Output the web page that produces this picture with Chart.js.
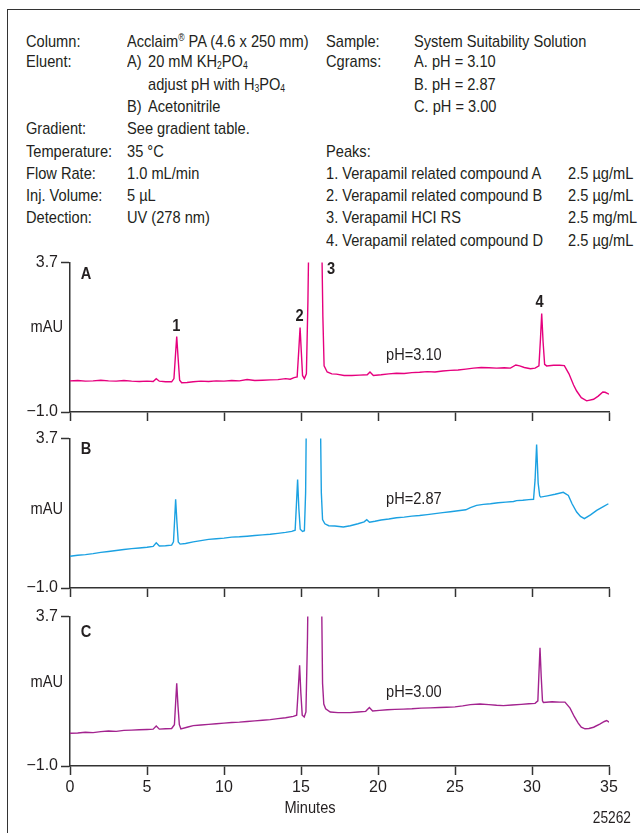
<!DOCTYPE html>
<html>
<head>
<meta charset="utf-8">
<script src="https://cdn.jsdelivr.net/npm/chart.js@4.4.1/dist/chart.umd.min.js"></script>
<style>
  body {
    margin: 0;
    width: 640px;
    height: 833px;
    overflow: hidden;
    background: #fff;
    position: relative;
    font-family: "Liberation Sans", Arial, sans-serif;
    color: #231f20;
  }
  .frame {
    position: absolute;
    left: 7px;
    top: 9px;
    width: 700px;
    height: 900px;
    border: 1.5px solid #333;
  }
  .t {
    position: absolute;
    font-size: 17px;
    line-height: 20px;
    white-space: nowrap;
    transform: scaleX(0.86);
    transform-origin: left center;
  }
  .t sub { font-size: 10px; vertical-align: -2px; line-height: 0; }
  .t sup { font-size: 10px; vertical-align: 6px; line-height: 0; }
  canvas { position: absolute; left: 0; }
</style>
</head>
<body>
<div class="frame"></div>

<div class="t" style="left:26px;top:32px">Column:</div>
<div class="t" style="left:127px;top:32px">Acclaim<sup>®</sup> PA (4.6 x 250 mm)</div>
<div class="t" style="left:26px;top:52px">Eluent:</div>
<div class="t" style="left:127px;top:52px">A)</div>
<div class="t" style="left:148px;top:52px">20 mM KH<sub>2</sub>PO<sub>4</sub></div>
<div class="t" style="left:148px;top:75px">adjust pH with H<sub>3</sub>PO<sub>4</sub></div>
<div class="t" style="left:127px;top:97px">B)</div>
<div class="t" style="left:148px;top:97px">Acetonitrile</div>
<div class="t" style="left:26px;top:119px">Gradient:</div>
<div class="t" style="left:127px;top:119px">See gradient table.</div>
<div class="t" style="left:26px;top:142px">Temperature:</div>
<div class="t" style="left:127px;top:142px">35 °C</div>
<div class="t" style="left:26px;top:164px">Flow Rate:</div>
<div class="t" style="left:127px;top:164px">1.0 mL/min</div>
<div class="t" style="left:26px;top:186px">Inj. Volume:</div>
<div class="t" style="left:127px;top:186px">5 µL</div>
<div class="t" style="left:26px;top:208px">Detection:</div>
<div class="t" style="left:127px;top:208px">UV (278 nm)</div>

<div class="t" style="left:326px;top:32px">Sample:</div>
<div class="t" style="left:414px;top:32px">System Suitability Solution</div>
<div class="t" style="left:326px;top:52px">Cgrams:</div>
<div class="t" style="left:414px;top:52px">A. pH = 3.10</div>
<div class="t" style="left:414px;top:75px">B. pH = 2.87</div>
<div class="t" style="left:414px;top:97px">C. pH = 3.00</div>
<div class="t" style="left:326px;top:142px">Peaks:</div>
<div class="t" style="left:326px;top:164px">1. Verapamil related compound A</div>
<div class="t" style="left:568px;top:164px">2.5 µg/mL</div>
<div class="t" style="left:326px;top:186px">2. Verapamil related compound B</div>
<div class="t" style="left:568px;top:186px">2.5 µg/mL</div>
<div class="t" style="left:326px;top:208px">3. Verapamil HCI RS</div>
<div class="t" style="left:568px;top:208px">2.5 mg/mL</div>
<div class="t" style="left:326px;top:231px">4. Verapamil related compound D</div>
<div class="t" style="left:568px;top:231px">2.5 µg/mL</div>

<canvas id="chartA" width="640" height="176" style="top:250px"></canvas>
<canvas id="chartB" width="640" height="176" style="top:426px"></canvas>
<canvas id="chartC" width="640" height="196" style="top:604px"></canvas>

<div class="t" style="left:260px;width:100px;text-align:center;top:798px;transform-origin:center">Minutes</div>
<div class="t" style="left:531px;width:100px;text-align:right;top:808px;font-size:16px;transform-origin:right center">25262</div>

<script>
// axis ticks
const yTickValues = [-1.0, 3.7];
const yTickLabels = ["\u22121.0", "3.7"];
const xMin = 0;
const xMax = 35;
const xStep = 5;

// chromatogram A, pH = 3.10 (minutes / mAU)
const minutesA = [0, 0.5, 1, 1.5, 2, 2.5, 3, 3.5, 4, 4.5, 5, 5.4, 5.6, 5.8, 6.2, 6.6,
  6.75, 6.85, 6.93, 7.02, 7.12, 7.25, 7.6, 8, 8.5, 9, 9.5, 10, 10.5, 11, 11.5, 12, 12.5,
  13, 13.5, 14, 14.3, 14.55, 14.75, 14.85, 14.94, 15.02, 15.1, 15.22, 15.35, 15.45, 15.55,
  16.3, 16.42, 16.5, 16.7, 17, 17.3, 17.8, 18.3, 18.8, 19.3, 19.48, 19.7, 20.2, 20.7,
  21.2, 21.7, 22.2, 22.7, 23.2, 23.7, 24.2, 24.7, 25.2, 25.7, 26.2, 26.7, 27.2, 27.7,
  28.2, 28.6, 28.95, 29.2, 29.5, 29.9, 30.2, 30.45, 30.55, 30.63, 30.72, 30.82, 30.95,
  31.4, 31.8, 32.1, 32.4, 32.7, 32.9, 33.2, 33.55, 34, 34.3, 34.6, 34.75, 35];
const mauA = [-0.02, -0.01, -0.03, -0.02, 0.0, -0.02, -0.03, -0.01, -0.03, -0.04, -0.03, -0.04, 0.05, -0.03, -0.05, -0.05,
  0.05, 0.8, 1.37, 0.7, 0.0, -0.08, -0.07, -0.05, -0.03, -0.04, -0.02, -0.03, -0.01, -0.02, 0.02, -0.01, 0.0,
  0.01, 0.02, 0.05, 0.03, 0.08, 0.1, 0.9, 1.66, 0.9, 0.15, 0.05, 0.2, 2.5, 6.0,
  6.0, 2.0, 0.45, 0.26, 0.2, 0.19, 0.15, 0.15, 0.16, 0.17, 0.26, 0.15, 0.17, 0.2,
  0.22, 0.21, 0.24, 0.25, 0.27, 0.26, 0.29, 0.31, 0.32, 0.35, 0.38, 0.4, 0.39, 0.38,
  0.39, 0.38, 0.48, 0.45, 0.4, 0.36, 0.38, 0.45, 1.3, 2.1, 1.2, 0.5, 0.45,
  0.47, 0.47, 0.46, 0.2, -0.15, -0.34, -0.55, -0.65, -0.6, -0.5, -0.37, -0.38, -0.44];

// chromatogram B, pH = 2.87
const minutesB = [0, 0.5, 1, 1.5, 2, 2.5, 3, 3.5, 4, 4.5, 5, 5.4, 5.6, 5.8, 6.2, 6.6,
  6.72, 6.8, 6.86, 6.94, 7.03, 7.15, 7.5, 8, 8.5, 9, 9.5, 10, 10.5, 11, 11.5, 12, 12.5,
  13, 13.5, 14, 14.4, 14.62, 14.7, 14.78, 14.86, 14.95, 15.1, 15.22, 15.3, 15.38,
  16.22, 16.32, 16.4, 16.55, 16.8, 17.2, 17.75, 18.2, 18.7, 19.1, 19.27, 19.45, 19.8,
  20.2, 20.7, 21.2, 21.7, 22.2, 22.7, 23.2, 23.7, 24.2, 24.7, 25.2, 25.7, 26, 26.4,
  26.84, 27.3, 27.8, 28.3, 28.8, 29, 29.4, 29.8, 30.1, 30.2, 30.3, 30.4, 30.5, 30.56,
  31, 31.5, 32.03, 32.36, 32.6, 32.9, 33.15, 33.4, 33.8, 34.2, 34.6, 34.96];
const mauB = [0.0, 0.03, 0.05, 0.08, 0.12, 0.15, 0.18, 0.21, 0.24, 0.26, 0.28, 0.31, 0.42, 0.32, 0.33, 0.35,
  0.45, 1.2, 1.79, 1.1, 0.45, 0.38, 0.4, 0.45, 0.49, 0.53, 0.55, 0.57, 0.6, 0.61, 0.63, 0.65, 0.67,
  0.69, 0.72, 0.75, 0.78, 0.82, 1.6, 2.41, 1.5, 0.85, 0.78, 0.8, 2.0, 6.0,
  6.0, 2.0, 1.15, 1.02, 0.96, 0.95, 0.92, 0.96, 1.02, 1.08, 1.15, 1.07, 1.1,
  1.14, 1.17, 1.21, 1.23, 1.26, 1.28, 1.31, 1.34, 1.37, 1.4, 1.43, 1.46, 1.53, 1.6,
  1.63, 1.65, 1.68, 1.7, 1.72, 1.75, 1.76, 1.78, 1.79, 2.4, 3.51, 2.3, 1.9, 1.86,
  1.9, 1.95, 2.01, 1.91, 1.65, 1.39, 1.25, 1.18, 1.3, 1.44, 1.55, 1.65];

// chromatogram C, pH = 3.00
const minutesC = [0, 0.5, 1, 1.5, 2, 2.5, 3, 3.5, 4, 4.5, 5, 5.4, 5.6, 5.8, 6.2, 6.6,
  6.78, 6.86, 6.93, 7.01, 7.1, 7.2, 7.6, 8, 8.5, 9, 9.5, 10, 10.5, 11, 11.5, 12, 12.5,
  13, 13.5, 14, 14.5, 14.72, 14.82, 14.91, 14.99, 15.08, 15.21, 15.32, 15.42, 15.5,
  16.3, 16.4, 16.48, 16.6, 16.9, 17.4, 18.18, 18.7, 19.2, 19.44, 19.65, 20.1, 20.6,
  21.1, 21.65, 22.2, 22.8, 23.4, 24, 24.46, 25, 25.5, 26, 26.62, 27.2, 27.7, 28.14,
  28.7, 29.3, 29.8, 30.2, 30.38, 30.45, 30.52, 30.6, 30.68, 30.74, 31.3, 31.8, 32.14,
  32.47, 32.75, 33, 33.2, 33.44, 33.7, 34, 34.4, 34.7, 34.85, 35];
const mauC = [0.03, 0.04, 0.06, 0.05, 0.08, 0.1, 0.09, 0.12, 0.13, 0.14, 0.15, 0.16, 0.26, 0.16, 0.17, 0.18,
  0.3, 1.0, 1.6, 0.9, 0.3, 0.17, 0.22, 0.27, 0.29, 0.31, 0.33, 0.35, 0.37, 0.38, 0.4, 0.42, 0.44,
  0.46, 0.49, 0.52, 0.56, 0.6, 1.4, 2.17, 1.3, 0.6, 0.54, 0.7, 3.0, 6.0,
  6.0, 1.6, 0.95, 0.8, 0.7, 0.68, 0.68, 0.7, 0.72, 0.84, 0.73, 0.75, 0.77,
  0.78, 0.79, 0.8, 0.82, 0.83, 0.84, 0.85, 0.86, 0.89, 0.93, 0.95, 0.93, 0.91, 0.9,
  0.92, 0.94, 0.96, 0.97, 1.05, 1.9, 2.72, 1.8, 1.05, 1.0, 1.02, 1.01, 1.01,
  0.82, 0.55, 0.35, 0.22, 0.17, 0.18, 0.22, 0.32, 0.4, 0.43, 0.38];

const FONT = '"Liberation Sans", Arial, sans-serif';
const INK = "#231f20";
const SQUEEZE = 0.86; // the original uses a condensed face

Chart.defaults.font.family = FONT;
Chart.defaults.font.size = 16;
Chart.defaults.color = INK;

// letters, peak numbers and pH notes, placed in data units
const panelText = {
  id: "panelText",
  afterDatasetsDraw(chart, args, opts) {
    const { ctx, chartArea } = chart;
    const x = chart.scales.x;
    const y = chart.scales.y;
    const put = (text, px, py, align, bold) => {
      ctx.save();
      ctx.translate(px, py);
      ctx.scale(SQUEEZE, 1);
      ctx.font = (bold ? "bold " : "") + "17px " + FONT;
      ctx.textAlign = align;
      ctx.textBaseline = "middle";
      ctx.fillStyle = INK;
      ctx.fillText(text, 0, 0);
      ctx.restore();
    };
    opts.items.forEach((it) => {
      put(it.text, x.getPixelForValue(it.t), y.getPixelForValue(it.v), it.align || "center", it.bold);
    });
    put("mAU", chartArea.left - 7, y.getPixelForValue(opts.unitAt), "right", false);
  },
};

const makePanel = (id, minutes, mau, color, items, unitAt, showMinutes) => {
  const ctx = document.getElementById(id).getContext("2d");
  return new Chart(ctx, {
    type: "line",
    data: {
      datasets: [
        {
          data: minutes.map((t, i) => ({ x: t, y: mau[i] })),
          borderColor: color,
          borderWidth: 1.4,
          pointRadius: 0,
          tension: 0,
          fill: false,
        },
      ],
    },
    options: {
      responsive: false,
      animation: false,
      layout: { padding: { top: 12, right: 31, left: 0, bottom: 0 } },
      plugins: {
        legend: { display: false },
        tooltip: { enabled: false },
        panelText: { items: items, unitAt: unitAt },
      },
      scales: {
        x: {
          type: "linear",
          min: xMin,
          max: xMax,
          afterFit: (ax) => {
            ax.height = showMinutes ? 34 : 14;
          },
          ticks: { stepSize: xStep, display: showMinutes, padding: 3, maxRotation: 0 },
          grid: { drawOnChartArea: false, tickLength: 9, tickColor: "#333", tickWidth: 1.5 },
          border: { color: "#333", width: 1.5 },
        },
        y: {
          min: yTickValues[0],
          max: yTickValues[1],
          afterBuildTicks: (ax) => {
            ax.ticks = yTickValues.map((v) => ({ value: v }));
          },
          afterFit: (ax) => {
            ax.width = 70;
          },
          ticks: { callback: (v, i) => yTickLabels[i], padding: 3 },
          grid: { drawOnChartArea: false, tickLength: 9, tickColor: "#333", tickWidth: 1.5 },
          border: { color: "#333", width: 1.5 },
        },
      },
    },
    plugins: [panelText],
  });
};

makePanel("chartA", minutesA, mauA, "#e6007e", [
  { text: "A", t: 0.7, v: 3.32, bold: true, align: "left" },
  { text: "1", t: 6.9, v: 1.68, bold: true },
  { text: "2", t: 14.9, v: 2.01, bold: true },
  { text: "3", t: 16.95, v: 3.48, bold: true },
  { text: "4", t: 30.49, v: 2.46, bold: true },
  { text: "pH=3.10", t: 20.52, v: 0.79, align: "left" },
], 1.66, false);

makePanel("chartB", minutesB, mauB, "#1ba1e2", [
  { text: "B", t: 0.7, v: 3.36, bold: true, align: "left" },
  { text: "pH=2.87", t: 20.52, v: 1.8, align: "left" },
], 1.48, false);

makePanel("chartC", minutesC, mauC, "#a3238f", [
  { text: "C", t: 0.7, v: 3.2, bold: true, align: "left" },
  { text: "pH=3.00", t: 20.52, v: 1.32, align: "left" },
], 1.63, true);
</script>
</body>
</html>
